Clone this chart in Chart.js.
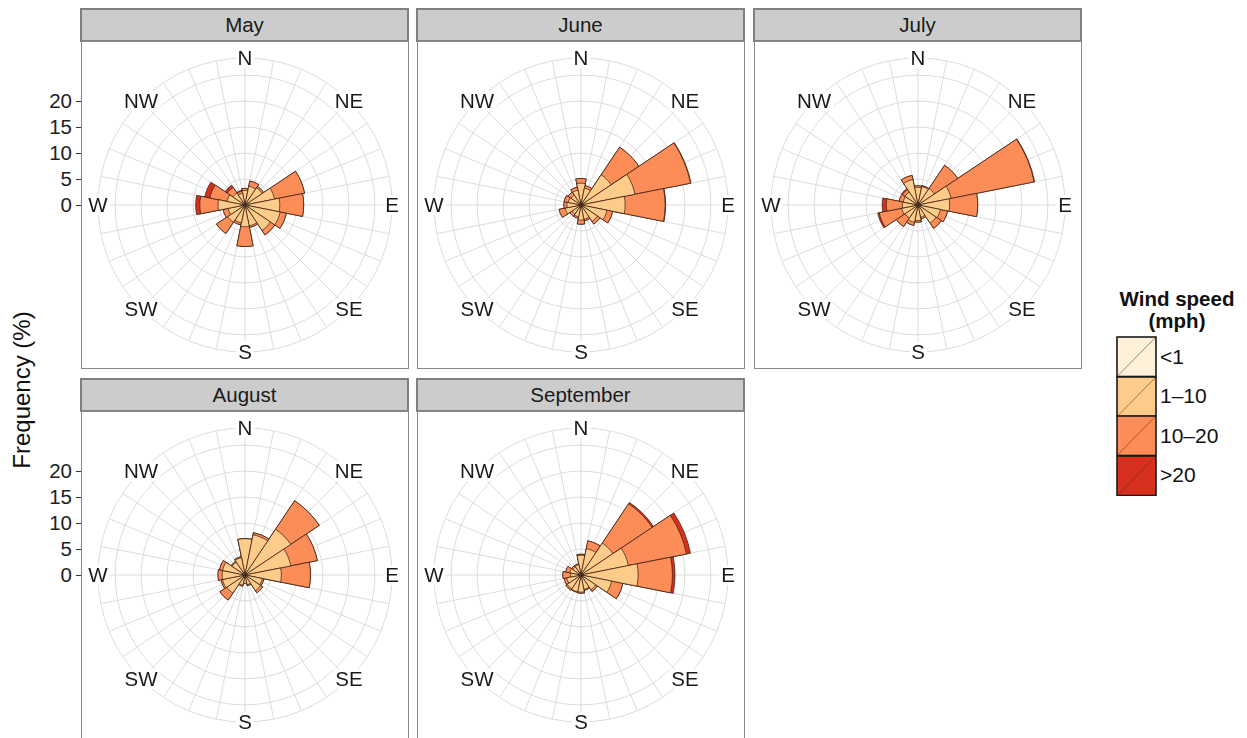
<!DOCTYPE html>
<html>
<head>
<meta charset="utf-8">
<title>Wind rose by month</title>
<script src="https://cdn.jsdelivr.net/npm/chart.js@4.4.1/dist/chart.umd.min.js"></script>
<style>
  html, body { margin: 0; padding: 0; }
  body {
    width: 1247px; height: 738px; overflow: hidden; position: relative;
    background: #ffffff;
    font-family: "Liberation Sans", Arial, Helvetica, sans-serif;
    color: #1a1a1a;
  }
  .strip {
    position: absolute; box-sizing: border-box;
    background: #cccccc; border: 2px solid #7f7f7f;
    font-size: 20.5px; text-align: center; color: #1a1a1a;
  }
  .frame {
    position: absolute; box-sizing: border-box;
    border: 1px solid #8a8a8a; pointer-events: none;
  }
  canvas.rose { position: absolute; }
  .ytick {
    position: absolute; width: 40px; text-align: right;
    font-size: 20.5px; line-height: 22px; color: #222;
  }
  .tickmark { position: absolute; width: 5px; height: 1px; background: #333; }
  #ytitle {
    position: absolute; font-size: 24px; white-space: nowrap; color: #111;
    transform: translate(-50%, -50%) rotate(-90deg);
  }
  #legend-title {
    position: absolute; left: 1107px; width: 140px; top: 288px;
    text-align: center; font-weight: bold; font-size: 20.5px; line-height: 22px; color: #111;
  }
  .legend-label { position: absolute; font-size: 21px; line-height: 22px; color: #111; }
  .legend-key { position: absolute; }
</style>
</head>
<body>
<div id="ytitle">Frequency (%)</div>
<div id="legend-title">Wind speed<br>(mph)</div>

<script>
// ---- data -----------------------------------------------------------
const directions = ['N','NNE','NE','ENE','E','ESE','SE','SSE','S','SSW','SW','WSW','W','WNW','NW','NNW'];
const speedBins = ['<1', '1–10', '10–20', '>20'];
const months = ['May', 'June', 'July', 'August', 'September'];
const radialTicks = [0, 5, 10, 15, 20];
const compassLabels = ['N', 'NE', 'E', 'SE', 'S', 'SW', 'W', 'NW'];

// frequency (%) per direction, one row per speed bin (<1, 1–10, 10–20, >20)
const mayFreq = [
  [0.6, 0.5, 0.5, 0.6, 0.7, 0.7, 0.6, 0.5, 0.6, 0.5, 0.5, 0.5, 0.6, 0.5, 0.5, 0.5],
  [2.2, 3.2, 3.5, 5.2, 6.0, 6.2, 5.3, 3.6, 3.6, 3.0, 3.5, 2.8, 4.6, 3.0, 2.3, 1.8],
  [0.4, 1.0, 0.3, 5.9, 4.6, 1.2, 1.0, 0.3, 3.8, 0.4, 2.6, 1.0, 3.5, 3.4, 1.3, 0.4],
  [0.0, 0.0, 0.0, 0.0, 0.0, 0.0, 0.0, 0.0, 0.0, 0.0, 0.0, 0.0, 0.8, 1.0, 0.5, 0.2]
];
const juneFreq = [
  [0.4, 0.3, 0.3, 0.4, 0.4, 0.3, 0.3, 0.3, 0.3, 0.3, 0.3, 0.3, 0.3, 0.3, 0.3, 0.3],
  [3.8, 3.0, 6.7, 10.2, 8.1, 4.8, 3.5, 2.5, 2.6, 2.0, 1.8, 2.8, 2.4, 2.2, 2.0, 2.6],
  [0.9, 0.5, 6.4, 10.9, 7.7, 1.1, 0.6, 0.3, 0.8, 0.3, 0.5, 1.2, 0.6, 0.8, 0.7, 0.6],
  [0.0, 0.0, 0.0, 0.1, 0.1, 0.0, 0.0, 0.0, 0.0, 0.0, 0.0, 0.0, 0.0, 0.0, 0.0, 0.0]
];
const julyFreq = [
  [0.4, 0.4, 0.4, 0.4, 0.4, 0.4, 0.4, 0.4, 0.4, 0.4, 0.4, 0.4, 0.4, 0.4, 0.4, 0.4],
  [3.0, 3.2, 3.4, 6.1, 5.7, 4.0, 3.8, 2.0, 2.6, 3.0, 2.6, 2.8, 2.6, 2.5, 2.6, 4.6],
  [0.3, 0.2, 5.4, 16.3, 5.4, 1.4, 1.2, 0.3, 0.3, 0.6, 2.0, 4.4, 3.1, 0.8, 0.6, 0.8],
  [0.0, 0.0, 0.0, 0.1, 0.0, 0.0, 0.0, 0.0, 0.0, 0.0, 0.0, 0.3, 0.8, 0.0, 0.2, 0.0]
];
const augustFreq = [
  [0.4, 0.4, 0.4, 0.4, 0.4, 0.4, 0.4, 0.4, 0.4, 0.4, 0.4, 0.4, 0.4, 0.4, 0.4, 0.4],
  [6.6, 7.5, 10.2, 8.6, 6.6, 3.0, 3.2, 1.5, 1.2, 1.6, 3.8, 4.0, 4.0, 4.0, 2.6, 3.0],
  [0.0, 0.4, 6.6, 5.2, 5.6, 0.3, 0.5, 0.2, 0.0, 0.2, 1.6, 0.3, 0.8, 0.6, 0.2, 0.2],
  [0.0, 0.0, 0.0, 0.0, 0.0, 0.0, 0.0, 0.0, 0.0, 0.0, 0.0, 0.0, 0.0, 0.0, 0.0, 0.0]
];
const septemberFreq = [
  [0.4, 0.4, 0.4, 0.4, 0.4, 0.4, 0.4, 0.4, 0.4, 0.4, 0.4, 0.4, 0.4, 0.4, 0.4, 0.4],
  [3.4, 4.8, 7.0, 8.9, 10.6, 5.6, 3.0, 2.4, 2.9, 2.9, 2.8, 2.4, 1.6, 1.8, 1.5, 1.6],
  [0.2, 1.5, 9.1, 11.4, 6.6, 2.2, 0.4, 0.2, 0.2, 0.1, 0.3, 0.5, 1.5, 0.8, 0.3, 0.2],
  [0.0, 0.0, 0.3, 0.8, 0.5, 0.0, 0.0, 0.0, 0.0, 0.0, 0.0, 0.0, 0.0, 0.0, 0.0, 0.0]
];
const monthFreq = [mayFreq, juneFreq, julyFreq, augustFreq, septemberFreq];

// ---- styling & layout ----------------------------------------------
const binColors = ['#fef0d9', '#fdcc8a', '#fc8d59', '#d7301f'];
const edgeColor = 'rgba(55, 28, 12, 0.9)';
const gridColor = '#dcdcdc';
const panelSize = 328;
const panelLefts = [81, 417, 754];
const panelTops = [41, 411];
const stripHeight = 34;
const rMax = 28.3;            // outer ring of each rose
const roseRadius = 147;       // pixels from centre to outer ring
const sectorWidth = 360 / directions.length;

// running totals so each speed bin sits on top of the slower ones
function stackBins(bins) {
  const totals = new Array(directions.length).fill(0);
  return bins.map(row => row.map((v, i) => (totals[i] += v)));
}

// 32 spokes and compass labels for the rose
const roseDecor = {
  id: 'roseDecor',
  beforeDatasetsDraw(chart) {
    const s = chart.scales.r, ctx = chart.ctx;
    const R = s.getDistanceFromCenterForValue(rMax);
    ctx.save();
    ctx.strokeStyle = gridColor;
    ctx.lineWidth = 1;
    for (let k = 0; k < 32; k++) {
      const a = (k * sectorWidth / 2) * Math.PI / 180;
      ctx.beginPath();
      ctx.moveTo(s.xCenter, s.yCenter);
      ctx.lineTo(s.xCenter + R * Math.sin(a), s.yCenter - R * Math.cos(a));
      ctx.stroke();
    }
    ctx.restore();
  },
  afterDraw(chart) {
    const s = chart.scales.r, ctx = chart.ctx;
    const R = s.getDistanceFromCenterForValue(rMax);
    ctx.save();
    ctx.font = '20.5px "Liberation Sans", Arial, sans-serif';
    ctx.textAlign = 'center';
    ctx.textBaseline = 'middle';
    compassLabels.forEach((lab, k) => {
      const a = k * 45 * Math.PI / 180;
      const x = s.xCenter + R * Math.sin(a);
      const y = s.yCenter - R * Math.cos(a);
      const w = ctx.measureText(lab).width;
      ctx.fillStyle = '#ffffff';
      ctx.fillRect(x - w / 2 - 2, y - 10, w + 4, 20);
      ctx.fillStyle = '#1a1a1a';
      ctx.fillText(lab, x, y + 1);
    });
    ctx.restore();
  }
};

months.forEach((month, m) => {
  const col = m % 3, row = Math.floor(m / 3);
  const left = panelLefts[col], top = panelTops[row];

  const strip = document.createElement('div');
  strip.className = 'strip';
  strip.textContent = month;
  Object.assign(strip.style, {
    left: (left - 1) + 'px', top: (top - stripHeight + 1) + 'px',
    width: (panelSize + 1) + 'px', height: stripHeight + 'px',
    lineHeight: (stripHeight - 4) + 'px'
  });
  document.body.appendChild(strip);

  const canvas = document.createElement('canvas');
  canvas.className = 'rose';
  canvas.width = panelSize; canvas.height = panelSize;
  canvas.style.left = left + 'px'; canvas.style.top = top + 'px';
  canvas.style.width = panelSize + 'px'; canvas.style.height = panelSize + 'px';
  document.body.appendChild(canvas);

  const frame = document.createElement('div');
  frame.className = 'frame';
  Object.assign(frame.style, {
    left: left + 'px', top: top + 'px', width: panelSize + 'px', height: panelSize + 'px'
  });
  document.body.appendChild(frame);

  const stacked = stackBins(monthFreq[m]);
  const chart = new Chart(canvas, {
    type: 'polarArea',
    data: {
      labels: directions,
      datasets: speedBins.map((bin, k) => ({
        label: bin,
        data: stacked[k],
        backgroundColor: binColors[k],
        borderColor: edgeColor,
        borderWidth: 0.8
      }))
    },
    options: {
      responsive: false,
      animation: false,
      events: [],
      layout: { padding: (panelSize - 2 * roseRadius) / 2 },
      plugins: { legend: { display: false }, tooltip: { enabled: false } },
      scales: {
        r: {
          min: 0, max: rMax,
          startAngle: -sectorWidth / 2,
          afterBuildTicks: s => {
            s.ticks = [0, 5, 10, 15, 20, 25, rMax].map(v => ({ value: v }));
          },
          ticks: { display: false },
          grid: { color: gridColor, lineWidth: 1, circular: true },
          angleLines: { display: false },
          pointLabels: { display: false }
        }
      }
    },
    plugins: [roseDecor]
  });

  // radial axis labels on the left edge of the first column
  if (col === 0) {
    const s = chart.scales.r;
    radialTicks.forEach(v => {
      const y = top + s.yCenter - s.getDistanceFromCenterForValue(v);
      const lab = document.createElement('div');
      lab.className = 'ytick';
      lab.textContent = v;
      lab.style.left = (left - 49) + 'px';
      lab.style.top = (y - 11) + 'px';
      document.body.appendChild(lab);
      const tm = document.createElement('div');
      tm.className = 'tickmark';
      tm.style.left = (left - 5) + 'px';
      tm.style.top = Math.round(y) + 'px';
      document.body.appendChild(tm);
    });
  }
});

// y title centred between the two rows
const yt = document.getElementById('ytitle');
yt.style.left = '22px';
yt.style.top = '390px';

// legend keys
const keyLeft = 1117, keyTop = 337, keyW = 39, keyH = 39.5;
speedBins.forEach((bin, k) => {
  const y = keyTop + k * keyH;
  const ns = 'http://www.w3.org/2000/svg';
  const svg = document.createElementNS(ns, 'svg');
  svg.setAttribute('width', keyW + 2);
  svg.setAttribute('height', keyH + 2);
  svg.setAttribute('class', 'legend-key');
  svg.style.left = (keyLeft - 1) + 'px';
  svg.style.top = (y - 1) + 'px';
  const rect = document.createElementNS(ns, 'rect');
  rect.setAttribute('x', 1); rect.setAttribute('y', 1);
  rect.setAttribute('width', keyW); rect.setAttribute('height', keyH);
  rect.setAttribute('fill', binColors[k]);
  rect.setAttribute('stroke', '#1a1a1a');
  rect.setAttribute('stroke-width', 1.6);
  svg.appendChild(rect);
  const line = document.createElementNS(ns, 'line');
  line.setAttribute('x1', 2); line.setAttribute('y1', keyH);
  line.setAttribute('x2', keyW); line.setAttribute('y2', 2);
  line.setAttribute('stroke', 'rgba(90, 45, 15, 0.55)');
  line.setAttribute('stroke-width', 1);
  svg.appendChild(line);
  document.body.appendChild(svg);

  const lab = document.createElement('div');
  lab.className = 'legend-label';
  lab.textContent = bin;
  lab.style.left = (keyLeft + keyW + 4) + 'px';
  lab.style.top = (y + keyH / 2 - 11) + 'px';
  document.body.appendChild(lab);
});
</script>
</body>
</html>
